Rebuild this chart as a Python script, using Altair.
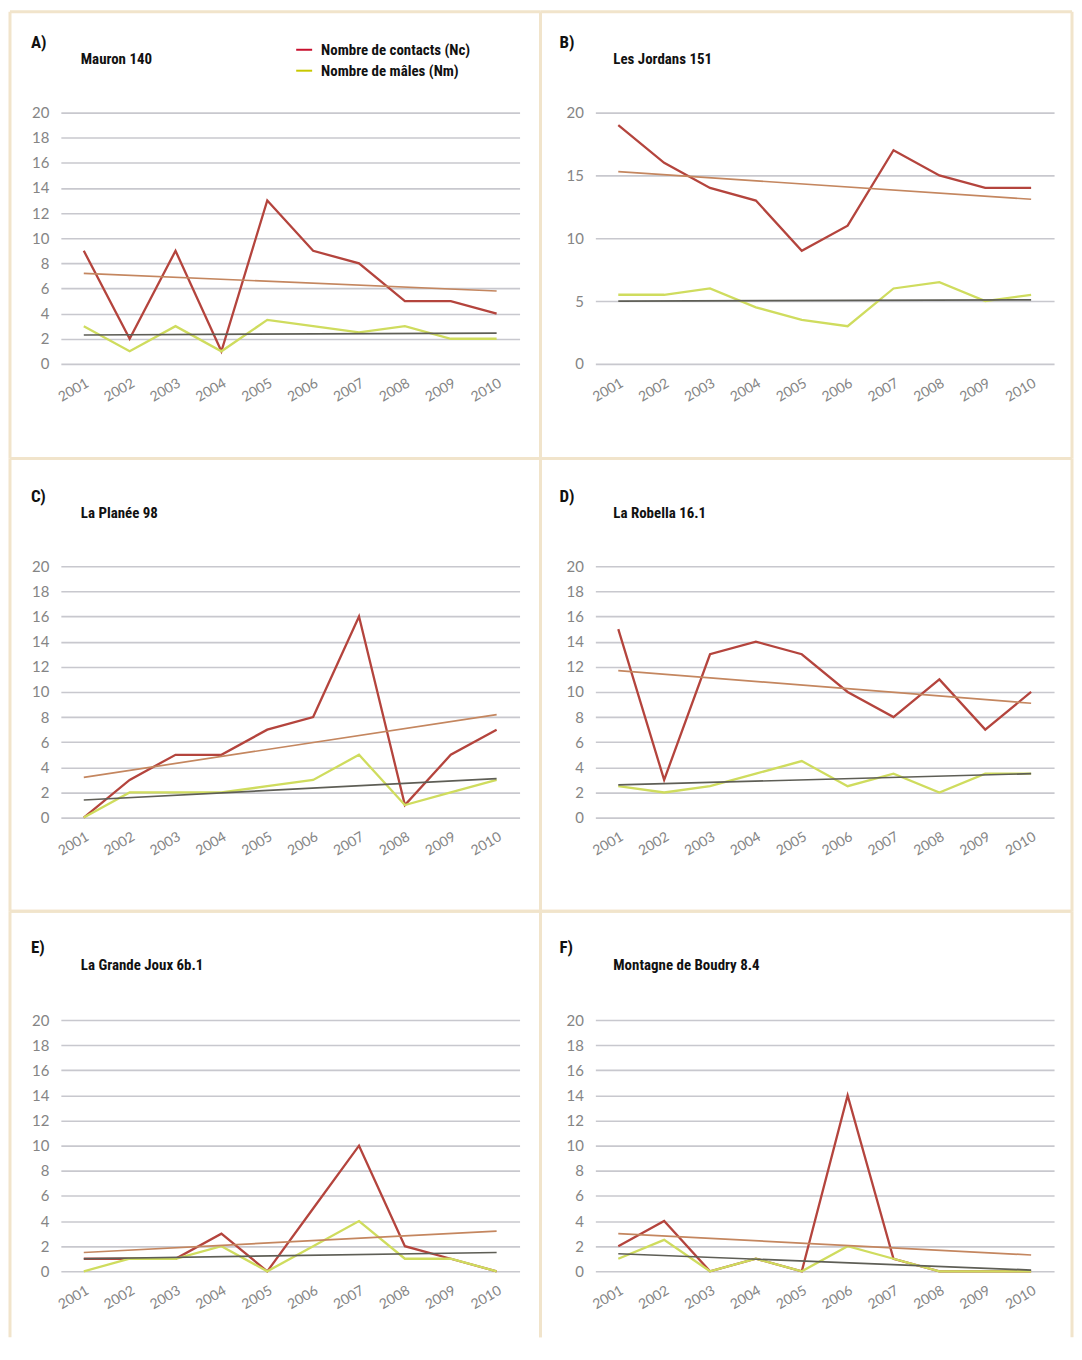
import altair as alt
import pandas as pd

years = [str(y) for y in range(2001, 2011)]
letters = ["A)", "B)", "C)", "D)", "E)", "F)"]
names = ["Mauron 140", "Les Jordans 151", "La Planée 98",
         "La Robella 16.1", "La Grande Joux 6b.1", "Montagne de Boudry 8.4"]
legend_labels = ["Nombre de contacts (Nc)", "Nombre de mâles (Nm)"]

nc_A = [9, 2, 9, 1, 13, 9, 8, 5, 5, 4]
nm_A = [3, 1, 3, 1, 3.5, 3, 2.5, 3, 2, 2]
trend_nc_A = [7.2, 5.8]
trend_nm_A = [2.3, 2.45]

nc_B = [19, 16, 14, 13, 9, 11, 17, 15, 14, 14]
nm_B = [5.5, 5.5, 6, 4.5, 3.5, 3, 6, 6.5, 5, 5.5]
trend_nc_B = [15.3, 13.1]
trend_nm_B = [5.0, 5.1]

nc_C = [0, 3, 5, 5, 7, 8, 16, 1, 5, 7]
nm_C = [0, 2, 2, 2, 2.5, 3, 5, 1, 2, 3]
trend_nc_C = [3.2, 8.2]
trend_nm_C = [1.4, 3.1]

nc_D = [15, 3, 13, 14, 13, 10, 8, 11, 7, 10]
nm_D = [2.5, 2, 2.5, 3.5, 4.5, 2.5, 3.5, 2, 3.5, 3.5]
trend_nc_D = [11.7, 9.1]
trend_nm_D = [2.6, 3.5]

nc_E = [1, 1, 1, 3, 0, 5, 10, 2, 1, 0]
nm_E = [0, 1, 1, 2, 0, 2, 4, 1, 1, 0]
trend_nc_E = [1.5, 3.2]
trend_nm_E = [1.0, 1.5]

nc_F = [2, 4, 0, 1, 0, 14, 1, 0, 0, 0]
nm_F = [1, 2.5, 0, 1, 0, 2, 1, 0, 0, 0]
trend_nc_F = [3.0, 1.3]
trend_nm_F = [1.4, 0.1]

ticks_2 = [0, 2, 4, 6, 8, 10, 12, 14, 16, 18, 20]
ticks_5 = [0, 5, 10, 15, 20]

panels_data = [
    (nc_A, nm_A, trend_nc_A, trend_nm_A, ticks_2),
    (nc_B, nm_B, trend_nc_B, trend_nm_B, ticks_5),
    (nc_C, nm_C, trend_nc_C, trend_nm_C, ticks_2),
    (nc_D, nm_D, trend_nc_D, trend_nm_D, ticks_2),
    (nc_E, nm_E, trend_nc_E, trend_nm_E, ticks_2),
    (nc_F, nm_F, trend_nc_F, trend_nm_F, ticks_2),
]

W, H = 460, 252
BEIGE = "#f1e4cb"
C_NC = "#b4443d"
C_NM = "#cfdc5e"
C_TNC = "#c4865f"
C_TNM = "#5e5e56"
TITLE_FONT = "Liberation Sans Narrow, Roboto Condensed, Roboto, sans-serif"

one = pd.DataFrame({"a": [0]})

col_left = [-51, -55]
col_right = [481, 478]
row_top = [-101, -108, -109]
row_bottom = [347, 346, None]
row_end = [347, 346, 318]
letter_x = [-30, -36]
sub_x = [20, 18]
letter_y = [-70, -69, -72]
sub_y = [-54, -53, -55]


def make_panel(i):
    nc, nm, tnc, tnm, ticks = panels_data[i]
    col, row = i % 2, i // 2
    df_nc = pd.DataFrame({"year": years, "value": nc})
    df_nm = pd.DataFrame({"year": years, "value": nm})
    df_tnc = pd.DataFrame({"year": [years[0], years[-1]], "value": tnc})
    df_tnm = pd.DataFrame({"year": [years[0], years[-1]], "value": tnm})

    x = alt.X("year:O", title=None,
              scale=alt.Scale(type="point", padding=0.5, domain=years),
              axis=alt.Axis(labelAngle=-30, labelAlign="right", labelBaseline="top",
                            labelPadding=12, ticks=False, domain=False, grid=False,
                            labelFont="Lato", labelFontSize=14, labelColor="#858585"))
    y = alt.Y("value:Q", title=None,
              scale=alt.Scale(domain=[0, 20], nice=False),
              axis=alt.Axis(values=ticks, ticks=False, domain=False, grid=True,
                            gridColor="#c8c8ce", gridWidth=1.6, labelPadding=12,
                            labelFont="Lato", labelFontSize=15, labelColor="#858585"))

    layers = []
    yb = row_end[row]
    layers.append(alt.Chart(one).mark_rule(color=BEIGE, strokeWidth=3).encode(
        x=alt.value(col_left[col]), y=alt.value(row_top[row]), y2=alt.value(yb)))
    layers.append(alt.Chart(one).mark_rule(color=BEIGE, strokeWidth=3).encode(
        x=alt.value(col_right[col]), y=alt.value(row_top[row]), y2=alt.value(yb)))
    layers.append(alt.Chart(one).mark_rule(color=BEIGE, strokeWidth=3).encode(
        x=alt.value(col_left[col]), x2=alt.value(col_right[col]), y=alt.value(row_top[row])))
    if row_bottom[row] is not None:
        layers.append(alt.Chart(one).mark_rule(color=BEIGE, strokeWidth=3).encode(
            x=alt.value(col_left[col]), x2=alt.value(col_right[col]),
            y=alt.value(row_bottom[row])))

    layers.append(alt.Chart(df_nc).mark_line(color=C_NC, strokeWidth=2.3).encode(x=x, y=y))
    layers.append(alt.Chart(df_nm).mark_line(color=C_NM, strokeWidth=2.3).encode(x=x, y=y))
    layers.append(alt.Chart(df_tnc).mark_line(color=C_TNC, strokeWidth=1.7).encode(x=x, y=y))
    layers.append(alt.Chart(df_tnm).mark_line(color=C_TNM, strokeWidth=1.7).encode(x=x, y=y))

    layers.append(alt.Chart(one).mark_text(font=TITLE_FONT, fontWeight="bold", fontSize=17,
                                           align="left", baseline="middle", color="#111").encode(
        x=alt.value(letter_x[col]), y=alt.value(letter_y[row]), text=alt.value(letters[i])))
    layers.append(alt.Chart(one).mark_text(font=TITLE_FONT, fontWeight="bold", fontSize=15,
                                           align="left", baseline="middle", color="#111").encode(
        x=alt.value(sub_x[col]), y=alt.value(sub_y[row]), text=alt.value(names[i])))

    if i == 0:
        for k, (col_c, yy) in enumerate([("#c8102e", -63), ("#c8c800", -42)]):
            layers.append(alt.Chart(one).mark_rule(color=col_c, strokeWidth=2).encode(
                x=alt.value(236), x2=alt.value(252), y=alt.value(yy)))
            layers.append(alt.Chart(one).mark_text(font=TITLE_FONT, fontWeight="bold",
                                                   fontSize=15, align="left",
                                                   baseline="middle", color="#111").encode(
                x=alt.value(261), y=alt.value(yy), text=alt.value(legend_labels[k])))

    return alt.layer(*layers).properties(width=W, height=H)


panels = [make_panel(i) for i in range(6)]

chart = alt.concat(*panels, columns=2).properties(
    spacing={"row": 203, "column": 76},
    bounds="flush",
    padding=0,
    background="white",
).configure_view(stroke="transparent")

chart.save("out.html", embed_options={"renderer": "svg", "actions": False})
